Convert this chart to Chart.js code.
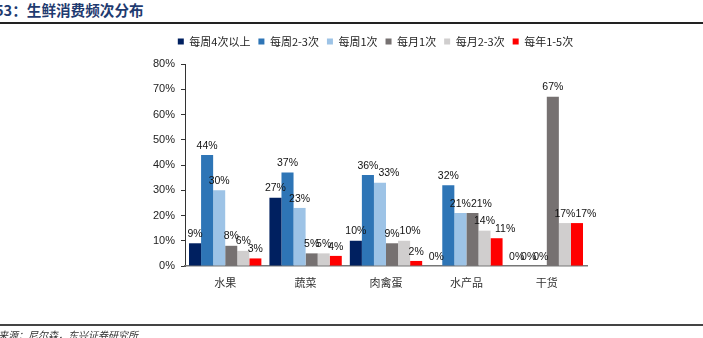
<!DOCTYPE html>
<html><head><meta charset="utf-8">
<script src="https://cdn.jsdelivr.net/npm/chart.js@4.4.0/dist/chart.umd.min.js"></script>
<style>
html,body{margin:0;padding:0;background:#fff;width:703px;height:338px;overflow:hidden;position:relative;font-family:"Noto Sans CJK SC","Liberation Sans",sans-serif;}
#title{position:absolute;left:-5px;top:0px;font-size:14.6px;font-weight:bold;color:#1F3B70;line-height:20px;white-space:nowrap;}
#tline{position:absolute;left:0;top:22px;width:703px;height:2px;background:#222;}
#bline{position:absolute;left:0;top:324px;width:703px;height:2px;background:#444;}
#src{position:absolute;left:-2px;top:328px;font-size:10px;color:#333;font-style:italic;line-height:14px;white-space:nowrap;}
#wrap{position:absolute;left:0;top:0;width:703px;height:338px;}
</style></head><body>
<div id="title">53：生鲜消费频次分布</div>
<div id="tline"></div>
<div id="wrap"><canvas id="c" width="703" height="338"></canvas></div>
<div id="bline"></div>
<div id="src">来源：尼尔森，东兴证券研究所</div>
<script>
const categories = ["水果","蔬菜","肉禽蛋","水产品","干货"];
const seriesNames = ["每周4次以上","每周2-3次","每周1次","每月1次","每月2-3次","每年1-5次"];
const s1 = [9,27,10,0,0];
const s2 = [44,37,36,32,0];
const s3 = [30,23,33,21,0];
const s4 = [8,5,9,21,67];
const s5 = [6,5,10,14,17];
const s6 = [3,4,2,11,17];
const yTicks = [0,10,20,30,40,50,60,70,80];
const colors = ["#002060","#2E75B6","#9DC3E6","#767171","#D0CECE","#FF0000"];
const allSeries = [s1,s2,s3,s4,s5,s6];

const helperPlugin = {
  id:'helper',
  beforeLayout(chart){
    const lg = chart.legend;
    if(lg && !lg._patched){
      lg._patched = true;
      const origFit = lg.fit;
      lg.fit = function(){ origFit.apply(this, arguments); this.height += 7; };
    }
  },
  afterLayout(chart){
    if(chart.legend){ chart.legend.left += 14.5; chart.legend.right += 14.5; }
  },
  afterDatasetsDraw(chart){
    const ctx = chart.ctx;
    ctx.save();
    ctx.font = '10.5px "Liberation Sans", Arial, sans-serif';
    ctx.fillStyle = '#111';
    ctx.textAlign = 'left';
    ctx.textBaseline = 'bottom';
    const n = chart.data.labels.length;
    for(let j=0;j<n;j++){
      let prev = null;
      chart.data.datasets.forEach((ds,i)=>{
        const bar = chart.getDatasetMeta(i).data[j];
        const txt = ds.data[j]+'%';
        const w = ctx.measureText(txt).width;
        let left = bar.x - w/2;
        const bottom = bar.y - 4, top = bottom - 8;
        if(prev && top < prev.bottom && bottom > prev.top && left < prev.right - 4){
          left = prev.right;
        }
        ctx.fillText(txt, left, bottom);
        prev = {right:left+w, top, bottom};
      });
    }
    ctx.restore();
  }
};

new Chart(document.getElementById('c'),{
  type:'bar',
  data:{
    labels:categories,
    datasets: allSeries.map((d,i)=>({label:seriesNames[i],data:d,backgroundColor:colors[i],borderWidth:0,barPercentage:1,categoryPercentage:0.9}))
  },
  options:{
    responsive:false,animation:false,
    layout:{padding:{left:135,right:116,top:28,bottom:42}},
    plugins:{
      legend:{display:true,position:'top',
        labels:{boxWidth:6,boxHeight:6,padding:8,color:'#222',font:{size:11,family:'"Noto Sans CJK SC","Liberation Sans",sans-serif'}}},
      tooltip:{enabled:false}
    },
    scales:{
      y:{min:0,max:80,
        afterBuildTicks(ax){ax.ticks = yTicks.map(v=>({value:v}));},
        afterFit(ax){ax.width=50;},
        ticks:{callback:v=>v+'%',color:'#222',padding:6,font:{size:11,family:'"Liberation Sans",Arial,sans-serif'}},
        grid:{display:true,drawOnChartArea:false,tickLength:4,color:'#333'},
        border:{display:true,color:'#333',width:1}
      },
      x:{
        afterFit(ax){ax.height=30;},
        ticks:{color:'#333',padding:2,font:{size:11,family:'"Noto Sans CJK SC",sans-serif'}},
        grid:{display:false},
        border:{display:true,color:'#777',width:1.5}
      }
    }
  },
  plugins:[helperPlugin]
});
</script>
</body></html>
